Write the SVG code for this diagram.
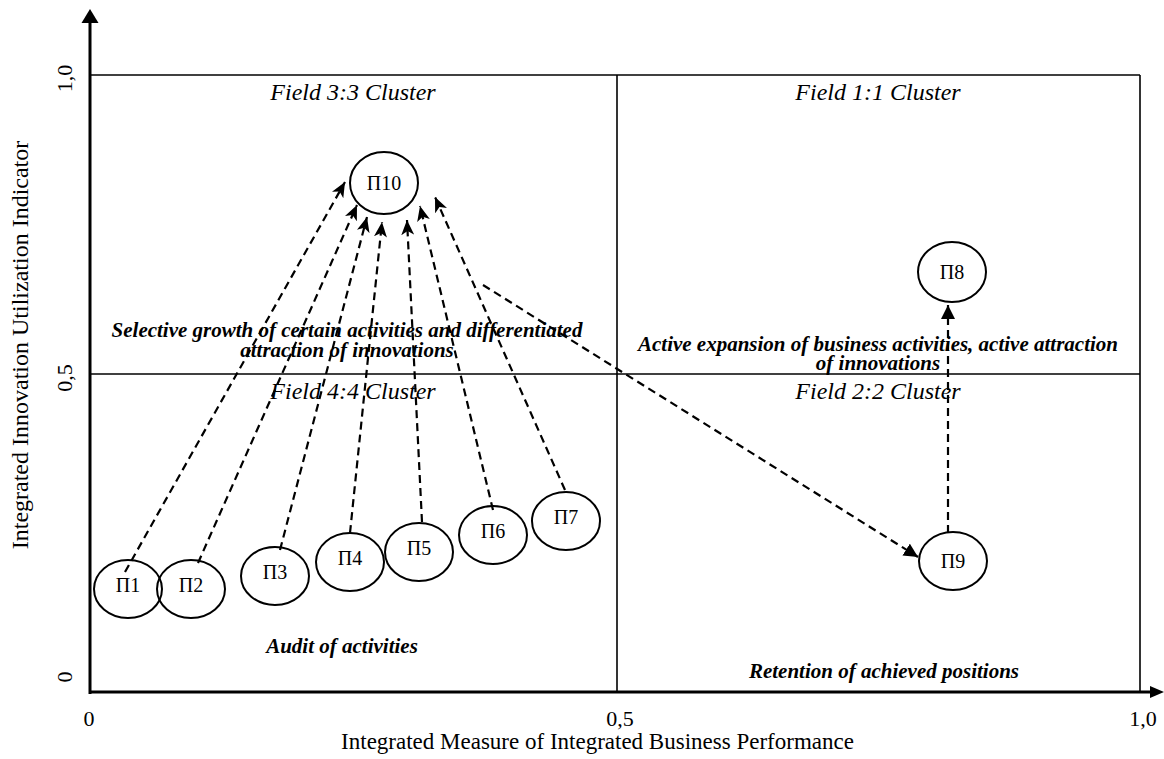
<svg xmlns="http://www.w3.org/2000/svg" width="1164" height="759" viewBox="0 0 1164 759">
<style>
text{font-family:"Liberation Serif","Times New Roman",serif;fill:#000}
.tick{font-size:22px}
.title{font-size:23px}
.field{font-size:24px;font-style:italic}
.note{font-size:21px;font-style:italic;font-weight:bold}
.nd ellipse{fill:none;stroke:#000;stroke-width:2}
.nd text{font-size:20px;text-anchor:middle}
.thin{stroke:#000;stroke-width:1.6;fill:none}
.axis{stroke:#000;stroke-width:3;fill:none}
.dash{stroke:#000;stroke-width:2.2;stroke-dasharray:8 5;fill:none}
</style>
<defs>
<marker id="st" markerUnits="userSpaceOnUse" markerWidth="15" markerHeight="13" refX="15" refY="6.5" orient="auto">
<path d="M0,0 L15,6.5 L0,13 L4,6.5 z" fill="#000"/>
</marker>
<marker id="tri" markerUnits="userSpaceOnUse" markerWidth="14" markerHeight="14" refX="14" refY="7" orient="auto">
<path d="M0,0 L14,7 L0,14 z" fill="#000"/>
</marker>
</defs>
<rect width="1164" height="759" fill="#fff"/>
<g id="frame">
<line class="thin" x1="90" y1="75" x2="1140" y2="75"/>
<line class="thin" x1="1140" y1="75" x2="1140" y2="692"/>
<line class="thin" x1="617" y1="75" x2="617" y2="692"/>
<line class="thin" x1="90" y1="374" x2="1140" y2="374"/>
</g>
<g id="axes">
<line class="axis" x1="90" y1="694" x2="90" y2="22"/>
<path d="M90,9 L98.5,23 L81.5,23 z" fill="#000"/>
<line class="axis" x1="89" y1="692" x2="1152" y2="692"/>
<path d="M1164,692 L1150,686 L1150,698 z" fill="#000"/>
<text class="tick" x="89" y="726" text-anchor="middle">0</text>
<text class="tick" x="620" y="726" text-anchor="middle">0,5</text>
<text class="tick" x="1143" y="726" text-anchor="middle">1,0</text>
<text class="tick" transform="translate(72,78.5) rotate(-90)" text-anchor="middle">1,0</text>
<text class="tick" transform="translate(72,378) rotate(-90)" text-anchor="middle">0,5</text>
<text class="tick" transform="translate(72,677) rotate(-90)" text-anchor="middle">0</text>
<text class="title" x="597.5" y="749" text-anchor="middle">Integrated Measure of Integrated Business Performance</text>
<text class="title" transform="translate(28,345) rotate(-90)" text-anchor="middle" style="font-size:24px">Integrated Innovation Utilization Indicator</text>
</g>
<g id="labels">
<text class="field" x="353" y="100" text-anchor="middle">Field 3:3 Cluster</text>
<text class="field" x="878" y="100" text-anchor="middle">Field 1:1 Cluster</text>
<text class="field" x="353" y="399" text-anchor="middle">Field 4:4 Cluster</text>
<text class="field" x="878" y="399" text-anchor="middle">Field 2:2 Cluster</text>
<text class="note" x="347" y="337" text-anchor="middle">Selective growth of certain activities and differentiated</text>
<text class="note" x="347" y="357" text-anchor="middle">attraction of innovations</text>
<text class="note" x="878" y="351" text-anchor="middle">Active expansion of business activities, active attraction</text>
<text class="note" x="878" y="370" text-anchor="middle">of innovations</text>
<text class="note" x="342" y="653" text-anchor="middle">Audit of activities</text>
<text class="note" x="884" y="678" text-anchor="middle">Retention of achieved positions</text>
</g>
<g id="connectors">
<line class="dash" x1="125" y1="572" x2="345" y2="182" marker-end="url(#st)"/>
<line class="dash" x1="198" y1="563" x2="357" y2="205" marker-end="url(#st)"/>
<line class="dash" x1="280" y1="550" x2="367" y2="217" marker-end="url(#st)"/>
<line class="dash" x1="350" y1="533" x2="382" y2="222" marker-end="url(#st)"/>
<line class="dash" x1="422" y1="522" x2="407" y2="220" marker-end="url(#st)"/>
<line class="dash" x1="493" y1="510" x2="420" y2="206" marker-end="url(#st)"/>
<line class="dash" x1="565" y1="490" x2="435" y2="197" marker-end="url(#st)"/>
<line class="dash" x1="483" y1="285" x2="918" y2="557" marker-end="url(#tri)"/>
<line class="dash" x1="948" y1="533" x2="948" y2="305" marker-end="url(#tri)"/>
</g>
<g id="P1" class="nd"><ellipse cx="128" cy="589" rx="34" ry="29"/><text x="128" y="592">П1</text></g>
<g id="P2" class="nd"><ellipse cx="191" cy="589" rx="34" ry="29"/><text x="191" y="592">П2</text></g>
<g id="P3" class="nd"><ellipse cx="275" cy="576" rx="34" ry="29"/><text x="275" y="579">П3</text></g>
<g id="P4" class="nd"><ellipse cx="350" cy="562" rx="34" ry="29"/><text x="350" y="565">П4</text></g>
<g id="P5" class="nd"><ellipse cx="419" cy="552" rx="34" ry="29"/><text x="419" y="555">П5</text></g>
<g id="P6" class="nd"><ellipse cx="493" cy="535" rx="34" ry="29"/><text x="493" y="538">П6</text></g>
<g id="P7" class="nd"><ellipse cx="566" cy="521" rx="34" ry="29"/><text x="566" y="524">П7</text></g>
<g id="P8" class="nd"><ellipse cx="952" cy="272" rx="34" ry="30"/><text x="952" y="279">П8</text></g>
<g id="P9" class="nd"><ellipse cx="953" cy="561" rx="34" ry="29"/><text x="953" y="568">П9</text></g>
<g id="P10" class="nd"><ellipse cx="384" cy="183" rx="34" ry="31"/><text x="384" y="190">П10</text></g>
</svg>
